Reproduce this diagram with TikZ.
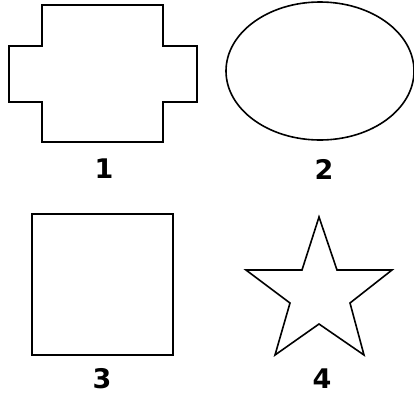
\documentclass[tikz,border=0pt]{standalone}
\usepackage{fontspec}
\setmainfont{DejaVu Sans}
\begin{document}
\begin{tikzpicture}[
x=1pt, y=-1pt,
line width=1.6pt,
shapeline/.style={draw, line join=miter},
number/.style={font=\fontsize{27}{27}\selectfont\bfseries, inner sep=0pt}
]
\useasboundingbox (0,0) rectangle (414,397);
% cross
\draw[shapeline] (42,5) -- (163,5) -- (163,46) -- (197,46) -- (197,102) -- (163,102)
  -- (163,142) -- (42,142) -- (42,102) -- (9,102) -- (9,46) -- (42,46) -- cycle;
\node[number] (one) at (104,169) {1};
% ellipse
\draw[shapeline] (320,71) ellipse [x radius=94, y radius=69];
\node[number] (two) at (324,169) {2};
% square
\draw[shapeline] (32,214) rectangle (173,355);
\node[number] (three) at (102,379) {3};
% star
\draw[shapeline] (319,217) -- (337,270) -- (392,270) -- (350,303) -- (364,355)
  -- (319,324) -- (275,355) -- (290,303) -- (246,270) -- (302,270) -- cycle;
\node[number] (four) at (322,379) {4};
\end{tikzpicture}
\end{document}
